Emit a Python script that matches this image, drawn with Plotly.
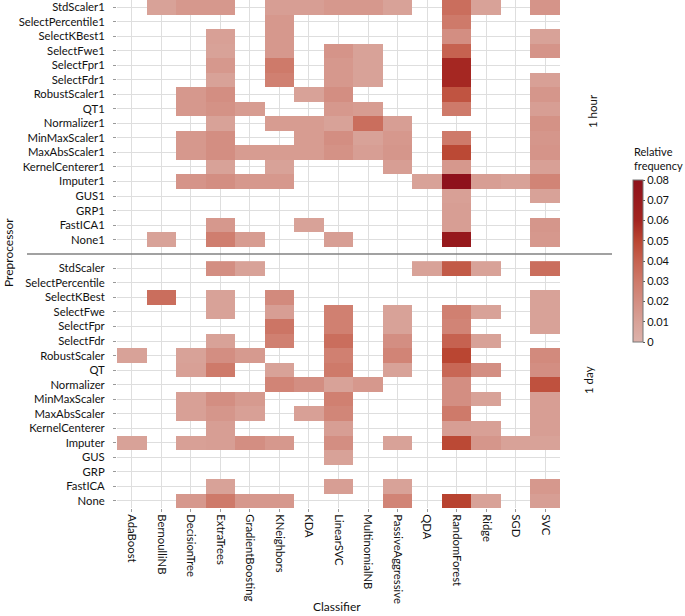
import plotly.graph_objects as go

N = None
classifiers = ["AdaBoost", "BernoulliNB", "DecisionTree", "ExtraTrees", "GradientBoosting",
               "KNeighbors", "KDA", "LinearSVC", "MultinomialNB", "PassiveAggressive",
               "QDA", "RandomForest", "Ridge", "SGD", "SVC"]
preproc_day = ["StdScaler", "SelectPercentile", "SelectKBest", "SelectFwe", "SelectFpr",
               "SelectFdr", "RobustScaler", "QT", "Normalizer", "MinMaxScaler",
               "MaxAbsScaler", "KernelCenterer", "Imputer", "GUS", "GRP", "FastICA", "None"]
preproc_hour = [p + "1" for p in preproc_day]

hour_values = [
    [N, .010, .015, .015, N, .012, .012, .015, .015, .010, N, .035, .010, N, .017],
    [N, N, N, N, N, .015, N, N, N, N, N, .030, N, N, N],
    [N, N, N, .011, N, .015, N, N, N, N, N, .020, N, N, .010],
    [N, N, N, .010, N, .015, N, .017, .010, N, N, .040, N, N, .017],
    [N, N, N, .015, N, .030, N, .015, .010, N, N, .059, N, N, N],
    [N, N, N, .010, N, .027, N, .015, .010, N, N, .059, N, N, .011],
    [N, N, .015, .020, N, N, .010, .020, N, N, N, .045, N, N, .016],
    [N, N, .015, .018, .013, N, N, .015, .013, N, N, .030, N, N, .012],
    [N, N, N, .010, N, .013, .013, .010, .035, .012, N, N, N, N, .018],
    [N, N, .015, .020, N, N, .013, .020, .010, .015, N, .030, N, N, .016],
    [N, N, .015, .020, .013, .013, .013, .018, .012, .016, N, .049, N, N, .017],
    [N, N, N, .010, N, .010, N, N, N, .012, N, .015, N, N, .011],
    [N, N, .017, .020, .015, .015, N, N, N, N, .010, .080, .012, .010, .025],
    [N, N, N, N, N, N, N, N, N, N, N, .011, N, N, .010],
    [N, N, N, N, N, N, N, N, N, N, N, .012, N, N, N],
    [N, N, N, .015, N, N, .010, N, N, N, N, .012, N, N, .016],
    [N, .010, N, .028, .013, N, N, .012, N, N, N, .072, N, N, .015],
]

day_values = [
    [N, N, N, .020, .010, N, N, N, N, N, .010, .043, .010, N, .035],
    [N, N, N, N, N, N, N, N, N, N, N, N, N, N, N],
    [N, .035, N, .010, N, .022, N, N, N, N, N, N, N, N, .010],
    [N, N, N, .010, N, .012, N, .027, N, .010, N, .027, .010, N, .010],
    [N, N, N, N, N, .032, N, .027, N, .010, N, .025, N, N, .010],
    [N, N, N, .010, N, .027, N, .035, N, .020, N, .040, .010, N, N],
    [.010, N, .010, .020, .014, N, N, .027, N, .025, N, .050, N, N, .022],
    [N, N, .011, .030, N, .010, N, .030, N, .010, N, .038, .020, N, .020],
    [N, N, N, N, N, .025, .020, .010, .015, N, N, .020, N, N, .046],
    [N, N, .011, .020, .014, N, N, .027, N, N, N, .020, .010, N, .012],
    [N, N, .011, .016, .011, N, .011, .024, N, N, N, .030, N, N, .012],
    [N, N, N, .012, N, N, N, .012, N, N, N, .012, .011, N, .012],
    [.010, N, .011, .012, .020, .015, N, .020, N, .010, N, .049, .016, .010, .010],
    [N, N, N, N, N, N, N, .010, N, N, N, N, N, N, N],
    [N, N, N, N, N, N, N, N, N, N, N, N, N, N, N],
    [N, N, N, .010, N, N, N, .012, N, .010, N, N, N, N, .015],
    [N, N, .015, .030, .015, .015, N, N, N, .025, N, .051, .010, N, .012],
]

colorbar_ticks = [0, 0.01, 0.02, 0.03, 0.04, 0.05, 0.06, 0.07, 0.08]
colorbar_ticktext = ["0", "0.01", "0.02", "0.03", "0.04", "0.05", "0.06", "0.07", "0.08"]

FONT = "Lato"
FS = 11.3
W, H = 685, 616
L, R, T, B = 117, 125, 0, 108
plot_h = H - T - B
plot_w = W - L - R

colorscale = [
    [0.0, "rgb(221,178,171)"],
    [0.125, "rgb(216,162,152)"],
    [0.25, "rgb(211,142,130)"],
    [0.375, "rgb(206,122,106)"],
    [0.5, "rgb(198,98,80)"],
    [0.625, "rgb(186,70,50)"],
    [0.75, "rgb(163,36,32)"],
    [1.0, "rgb(142,17,27)"],
]

xs = list(range(len(classifiers)))
ys = list(range(len(preproc_day)))

fig = go.Figure()
fig.add_trace(go.Heatmap(z=hour_values, x=xs, y=ys, coloraxis="coloraxis",
                         xaxis="x", yaxis="y", hoverongaps=False))
fig.add_trace(go.Heatmap(z=day_values, x=xs, y=ys, coloraxis="coloraxis",
                         xaxis="x2", yaxis="y2", hoverongaps=False))


def py(pix):
    return 1 - (pix - T) / plot_h


def px(pix):
    return (pix - L) / plot_w


sep_px = 254
sep = py(sep_px)
row_px = 14.52
top_rows = (sep_px - T) / row_px
bot_rows = (H - B - sep_px) / row_px

grid = "rgb(222,222,222)"
tickfont = dict(family=FONT, size=FS, color="#111")
common_y = dict(tickmode="array", tickvals=ys, showgrid=True, gridcolor=grid, gridwidth=1,
                zeroline=False, ticks="outside", ticklen=3, tickcolor="#999",
                tickfont=tickfont, showline=False, ticklabelstandoff=6, automargin=False)
common_x = dict(tickmode="array", tickvals=xs, range=[-0.5, len(xs) - 0.5], showgrid=True,
                gridcolor=grid, gridwidth=1, zeroline=False, showline=False, automargin=False)

fig.update_layout(
    width=W, height=H,
    margin=dict(l=L, r=R, t=T, b=B, autoexpand=False),
    plot_bgcolor="white", paper_bgcolor="white",
    font=dict(family=FONT, size=FS, color="#111"),
    xaxis=dict(**common_x, anchor="y", showticklabels=False, ticks=""),
    yaxis=dict(**common_y, ticktext=preproc_hour, domain=[sep, 1],
               range=[-0.5 + top_rows, -0.5], anchor="x"),
    xaxis2=dict(**common_x, anchor="y2", ticktext=classifiers, tickangle=90,
                ticks="outside", ticklen=3, tickcolor="#999", tickfont=tickfont),
    yaxis2=dict(**common_y, ticktext=preproc_day, domain=[0, sep],
                range=[16.5, 16.5 - bot_rows], anchor="x2"),
    coloraxis=dict(
        cmin=0, cmax=0.08, colorscale=colorscale,
        colorbar=dict(
            thickness=10, lenmode="pixels", len=162,
            x=px(633), xanchor="left", xpad=0,
            y=py(261), yanchor="middle", ypad=0,
            tickmode="array", tickvals=colorbar_ticks, ticktext=colorbar_ticktext,
            ticks="outside", ticklen=2, tickcolor="#555",
            tickfont=dict(family=FONT, size=11, color="#111"),
            outlinewidth=1, outlinecolor="#777",
        ),
    ),
    showlegend=False,
)

fig.add_shape(type="line", xref="paper", yref="paper",
              x0=px(27), x1=px(612), y0=sep, y1=sep,
              line=dict(color="rgb(130,130,130)", width=1.5))

ann_font = dict(family=FONT, size=11.5, color="#111")
fig.add_annotation(text="Relative<br>frequency", xref="paper", yref="paper",
                   x=px(632), y=py(158), xanchor="left", yanchor="middle", align="left",
                   showarrow=False, font=dict(family=FONT, size=11, color="#111"))
fig.add_annotation(text="1 hour", xref="paper", yref="paper",
                   x=px(592), y=py(111), xanchor="center", yanchor="middle",
                   showarrow=False, textangle=-90, font=ann_font)
fig.add_annotation(text="1 day", xref="paper", yref="paper",
                   x=px(588), y=py(380), xanchor="center", yanchor="middle",
                   showarrow=False, textangle=-90, font=ann_font)
fig.add_annotation(text="Preprocessor", xref="paper", yref="paper",
                   x=px(8), y=py(253), xanchor="center", yanchor="middle",
                   showarrow=False, textangle=-90, font=dict(family=FONT, size=12, color="#111"))
fig.add_annotation(text="Classifier", xref="paper", yref="paper",
                   x=px(337), y=py(606), xanchor="center", yanchor="middle",
                   showarrow=False, font=dict(family=FONT, size=12, color="#111"))

fig.write_html("out.html", config={"displayModeBar": False},
               post_script="document.body.style.margin='0';document.body.style.padding='0';document.body.style.overflow='hidden';")
